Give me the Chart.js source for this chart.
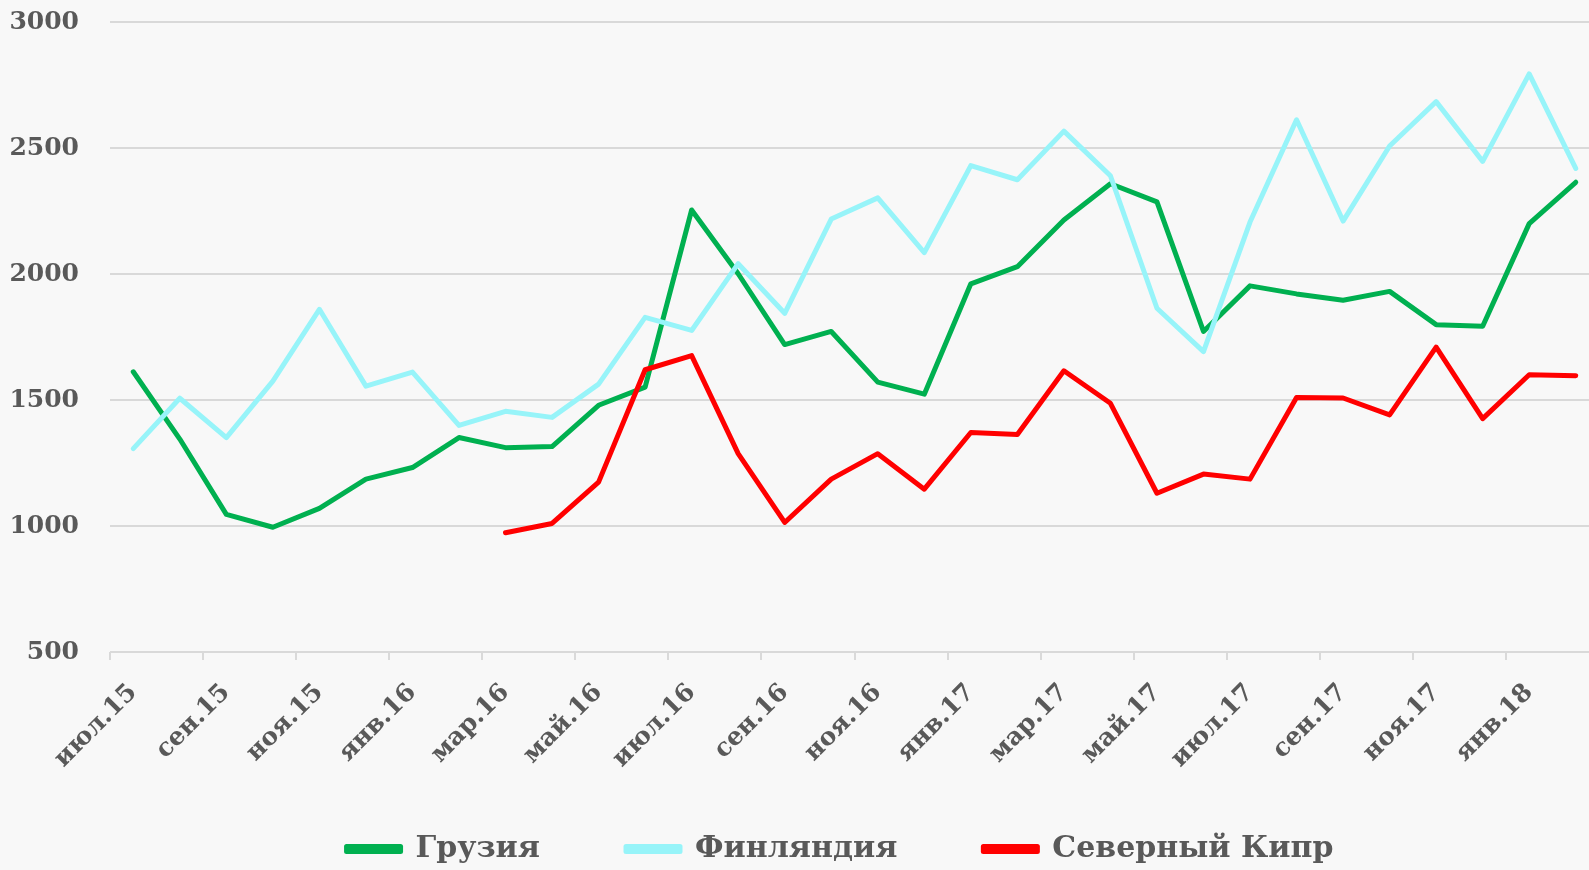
<!DOCTYPE html>
<html>
<head>
<meta charset="utf-8">
<script src="https://cdn.jsdelivr.net/npm/chart.js@4/dist/chart.umd.min.js"></script>
<style>
    html, body { margin: 0; padding: 0; background: #f8f8f8; overflow: hidden; }
    #wrap { width: 1680px; height: 870px; }
</style>
</head>
<body>
<div id="wrap"><canvas id="myChart" width="1680" height="870"></canvas></div>
<script>
// Months, июл.15 .. фев.18
const months = [
    'июл.15', 'авг.15', 'сен.15', 'окт.15', 'ноя.15', 'дек.15',
    'янв.16', 'фев.16', 'мар.16', 'апр.16', 'май.16', 'июн.16',
    'июл.16', 'авг.16', 'сен.16', 'окт.16', 'ноя.16', 'дек.16',
    'янв.17', 'фев.17', 'мар.17', 'апр.17', 'май.17', 'июн.17',
    'июл.17', 'авг.17', 'сен.17', 'окт.17', 'ноя.17', 'дек.17',
    'янв.18', 'фев.18'
];

const georgia = [
    1612, 1345, 1046, 995, 1070, 1186, 1232, 1351, 1311, 1315, 1479, 1551,
    2254, 2001, 1720, 1772, 1571, 1523, 1961, 2029, 2214, 2358, 2286, 1772,
    1953, 1921, 1896, 1931, 1799, 1793, 2200, 2364
];

const finland = [
    1307, 1507, 1351, 1575, 1860, 1555, 1611, 1399, 1455, 1431, 1563, 1828,
    1776, 2041, 1844, 2218, 2302, 2085, 2430, 2374, 2567, 2390, 1864, 1692,
    2206, 2612, 2210, 2508, 2684, 2447, 2794, 2419
];

const northCyprus = [
    null, null, null, null, null, null, null, null, 973, 1010, 1174, 1620,
    1676, 1287, 1014, 1186, 1287, 1146, 1371, 1363, 1616, 1487, 1130, 1206,
    1186, 1510, 1508, 1441, 1710, 1426, 1600, 1596
];

const yTicks = [500, 1000, 1500, 2000, 2500, 3000];

const textColor = '#595959';
const gridColor = '#d9d9d9';

const ctx = document.getElementById('myChart').getContext('2d');
const myChart = new Chart(ctx, {
    type: 'line',
    data: {
        labels: months,
        datasets: [{
            label: 'Грузия',
            data: georgia,
            borderColor: '#00b050',
            backgroundColor: '#00b050',
            order: 3
        }, {
            label: 'Финляндия',
            data: finland,
            borderColor: '#97f4f9',
            backgroundColor: '#97f4f9',
            order: 2
        }, {
            label: 'Северный Кипр',
            data: northCyprus,
            borderColor: '#ff0000',
            backgroundColor: '#ff0000',
            order: 1 // later series on top, like the original
        }]
    },
    options: {
        responsive: false,
        animation: false,
        events: [],
        layout: { padding: { top: 22, left: 0, right: 0, bottom: 6 } },
        elements: {
            line: { borderWidth: 5, tension: 0, borderCapStyle: 'round', borderJoinStyle: 'round' },
            point: { radius: 0 }
        },
        scales: {
            x: {
                offset: true,
                grid: {
                    offset: true,
                    drawOnChartArea: false,
                    tickLength: 8,
                    lineWidth: 2,
                    color: c => (c.index % 2 === 0 ? gridColor : 'rgba(0,0,0,0)')
                },
                border: { display: false },
                ticks: {
                    autoSkip: false,
                    maxRotation: 45,
                    minRotation: 45,
                    padding: 18,
                    color: textColor,
                    font: { family: 'DejaVu Serif', weight: 'bold', size: 25 },
                    callback: (v, i) => (i % 2 === 0 ? months[i] : '')
                },
                afterFit: scale => {
                    scale.height = 96;
                    // let the slanted labels run past the axis box, the legend sits below them
                    scale._computeLabelArea = () => undefined;
                }
            },
            y: {
                min: 500,
                max: 3000,
                afterBuildTicks: scale => { scale.ticks = yTicks.map(v => ({ value: v })); },
                grid: { drawTicks: false, color: gridColor, lineWidth: 2 },
                border: { display: false },
                ticks: {
                    padding: 31,
                    color: textColor,
                    font: { family: 'DejaVu Serif', weight: 'bold', size: 25 },
                    callback: v => String(v)
                },
                afterFit: scale => {
                    scale.width = 110;
                    scale.paddingTop = 0;
                }
            },
            // empty strip on the right, the source chart was cut off there
            yRight: {
                position: 'right',
                grid: { display: false },
                border: { display: false },
                ticks: { display: false },
                afterFit: scale => { scale.width = 81; }
            }
        },
        plugins: {
            tooltip: { enabled: false },
            legend: {
                position: 'bottom',
                maxHeight: 116,
                labels: {
                    boxWidth: 54,
                    boxHeight: 5,
                    padding: 86,
                    color: textColor,
                    font: { family: 'DejaVu Serif', weight: 'bold', size: 30, lineHeight: 1 },
                    sort: (a, b) => a.datasetIndex - b.datasetIndex
                }
            }
        }
    }
});
</script>
</body>
</html>
